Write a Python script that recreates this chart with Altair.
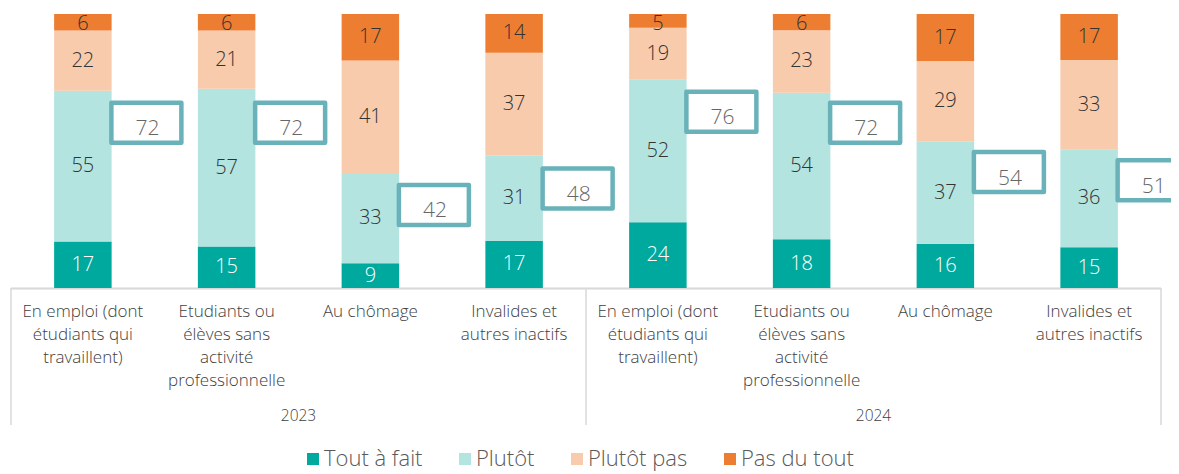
import altair as alt
import pandas as pd

# ---- data ----
years = ["2023", "2024"]
groups = [
    "En emploi (dont\nétudiants qui\ntravaillent)",
    "Etudiants ou\nélèves sans\nactivité\nprofessionnelle",
    "Au chômage",
    "Invalides et\nautres inactifs",
]
series = ["Tout à fait", "Plutôt", "Plutôt pas", "Pas du tout"]
colors = ["#00A99D", "#B3E4E0", "#F7CBAC", "#ED7D31"]

tout_a_fait = [17, 15, 9, 17, 24, 18, 16, 15]
plutot = [55, 57, 33, 31, 52, 54, 37, 36]
plutot_pas = [22, 21, 41, 37, 19, 23, 29, 33]
pas_du_tout = [6, 6, 17, 14, 5, 6, 17, 17]
total_accord = [72, 72, 42, 48, 76, 72, 54, 51]

# ---- tables ----
keys, labels = [], []
for y in years:
    for g in groups:
        keys.append(f"{y} | {g.replace(chr(10), ' ')}")
        labels.append(g)

rows = []
for i, k in enumerate(keys):
    for j, (s, vals) in enumerate(zip(series, [tout_a_fait, plutot, plutot_pas, pas_du_tout])):
        rows.append({"key": k, "cat": s, "order": j, "v": vals[i]})
df = pd.DataFrame(rows)

df_box = pd.DataFrame({"key": keys, "acc": [v / 100 for v in total_accord], "lab": total_accord})
df_lab = pd.DataFrame({"key": keys, "lab": labels})

W, H = 1150, 274
df_year = pd.DataFrame({"year": years, "xp": [(i + 0.5) * W / len(years) for i in range(len(years))]})
df_sep = pd.DataFrame({"xp": [i * W / len(years) for i in range(len(years) + 1)]})

FONT = "Open Sans"
xenc = alt.X("key:N", sort=keys, axis=None,
             scale=alt.Scale(paddingInner=0.6, paddingOuter=0.3))

base = alt.Chart(df).transform_stack(
    stack="v", groupby=["key"], as_=["y0", "y1"], offset="normalize",
    sort=[alt.SortField("order", order="ascending")]
).transform_calculate(mid="min((datum.y0 + datum.y1) / 2, 0.965)")

yscale = alt.Scale(domain=[0, 1], nice=False, zero=True)

bars = base.mark_bar().encode(
    x=xenc,
    y=alt.Y("y0:Q", scale=yscale, axis=None),
    y2="y1:Q",
    color=alt.Color("cat:N", scale=alt.Scale(domain=series, range=colors),
                    legend=alt.Legend(
                        title=None, orient="none", direction="horizontal",
                        legendX=291, legendY=434, padding=0,
                        symbolType="square", symbolSize=144, symbolStrokeWidth=0,
                        labelFont=FONT, labelFontSize=22, labelColor="#595959",
                        labelFontWeight=300, labelOffset=0, columnPadding=31)),
)

seg_text = base.mark_text(font=FONT, fontSize=20, fontWeight=300, baseline="middle").encode(
    x=xenc,
    y=alt.Y("mid:Q", scale=yscale),
    text="v:Q",
    color=alt.condition("datum.cat == 'Tout à fait'", alt.value("white"), alt.value("#333333")),
)

box = alt.Chart(df_box).mark_point(
    shape="M-1,-0.5714H1V0.5714H-1Z", size=4900, filled=False, fill="white",
    fillOpacity=1, stroke="#6AB2BA", strokeWidth=4.5, strokeJoin="round",
    opacity=1, xOffset=63.5, yOffset=32,
).encode(x=xenc, y=alt.Y("acc:Q", scale=yscale))

box_text = alt.Chart(df_box).mark_text(
    font=FONT, fontSize=21, fontWeight=300, color="#666666", baseline="middle",
    xOffset=64.5, yOffset=38.5,
).encode(x=xenc, y=alt.Y("acc:Q", scale=yscale), text="lab:Q")

cat_text = alt.Chart(df_lab).mark_text(
    font=FONT, fontSize=17, fontWeight=300, color="#404040", lineBreak="\n",
    baseline="alphabetic", lineHeight=23, align="center",
).encode(x=xenc, y=alt.value(303), text="lab:N")

year_text = alt.Chart(df_year).mark_text(
    font=FONT, fontSize=15.5, fontWeight=300, color="#404040", baseline="alphabetic",
).encode(x=alt.X("xp:Q", scale=None), y=alt.value(407), text="year:N")

seps = alt.Chart(df_sep).mark_rule(color="#D9D9D9", strokeWidth=1.5).encode(
    x=alt.X("xp:Q", scale=None), y=alt.value(H), y2=alt.value(411))

top_line = alt.Chart(df_sep).mark_rule(color="#D9D9D9", strokeWidth=1.5).encode(
    x=alt.value(0), x2=alt.value(W), y=alt.value(H + 0.5))

chart = alt.layer(seps, top_line, bars, seg_text, box, box_text, cat_text, year_text).properties(
    width=W, height=H,
    padding={"left": 3, "top": 6, "right": 10, "bottom": 186},
    autosize=alt.AutoSizeParams(type="none"),
    background="white",
).configure_view(stroke=None)

chart.save("out.html", embed_options={"renderer": "svg", "actions": False})
